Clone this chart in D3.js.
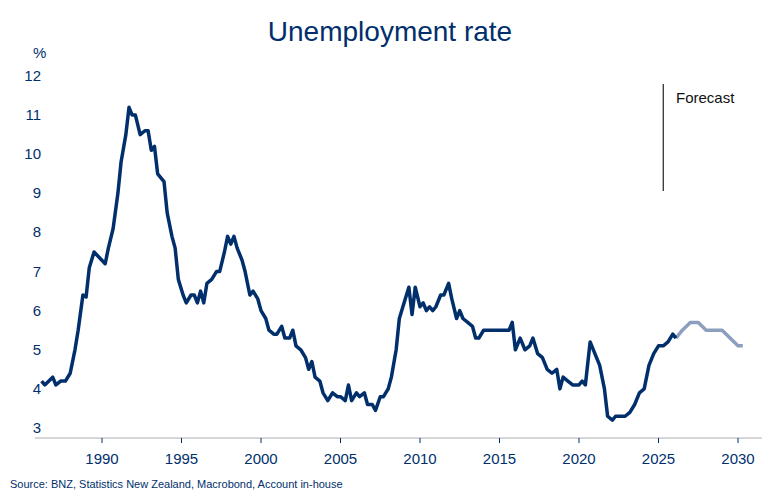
<!DOCTYPE html>
<html><head><meta charset="utf-8">
<script src="https://cdn.jsdelivr.net/npm/d3@7"></script>
<style>body{margin:0;background:#fff;font-family:"Liberation Sans",Arial,sans-serif}</style>
</head><body><div id="chart"></div>
<script>
// unemployment rate, [year, %]
const history = [[1986.2,4.2],[1986.4,4.1],[1986.9,4.3],[1987.1,4.1],[1987.4,4.2],[1987.7,4.2],[1988.0,4.4],[1988.3,5.0],[1988.5,5.5],[1988.8,6.4],[1989.0,6.35],[1989.2,7.1],[1989.5,7.5],[1990.2,7.2],[1990.4,7.6],[1990.7,8.1],[1991.0,9.0],[1991.2,9.8],[1991.5,10.5],[1991.7,11.2],[1991.9,11.0],[1992.1,11.0],[1992.4,10.5],[1992.7,10.6],[1992.9,10.6],[1993.1,10.1],[1993.3,10.2],[1993.5,9.5],[1993.9,9.3],[1994.1,8.5],[1994.4,7.9],[1994.6,7.6],[1994.8,6.8],[1995.1,6.4],[1995.3,6.2],[1995.6,6.4],[1995.8,6.4],[1996.0,6.2],[1996.2,6.5],[1996.4,6.2],[1996.6,6.7],[1996.9,6.8],[1997.2,7.0],[1997.4,7.0],[1997.7,7.5],[1997.9,7.9],[1998.1,7.7],[1998.3,7.9],[1998.5,7.6],[1998.8,7.3],[1999.0,7.0],[1999.3,6.4],[1999.5,6.5],[1999.8,6.3],[2000.0,6.0],[2000.3,5.8],[2000.5,5.5],[2000.8,5.4],[2001.0,5.4],[2001.3,5.6],[2001.5,5.3],[2001.8,5.3],[2002.0,5.5],[2002.2,5.1],[2002.5,5.0],[2002.8,4.8],[2003.0,4.5],[2003.2,4.7],[2003.4,4.3],[2003.7,4.2],[2003.9,3.9],[2004.2,3.7],[2004.5,3.9],[2004.8,3.8],[2005.0,3.8],[2005.3,3.7],[2005.5,4.1],[2005.7,3.7],[2006.0,3.9],[2006.2,3.8],[2006.5,3.9],[2006.7,3.6],[2007.0,3.6],[2007.2,3.45],[2007.5,3.8],[2007.7,3.8],[2008.0,4.0],[2008.2,4.3],[2008.5,5.0],[2008.7,5.8],[2009.0,6.2],[2009.3,6.6],[2009.5,5.9],[2009.7,6.6],[2010.0,6.1],[2010.2,6.2],[2010.4,6.0],[2010.6,6.1],[2010.8,6.0],[2011.0,6.1],[2011.3,6.4],[2011.5,6.4],[2011.8,6.7],[2012.0,6.3],[2012.3,5.8],[2012.5,6.0],[2012.7,5.8],[2013.0,5.7],[2013.3,5.6],[2013.5,5.3],[2013.7,5.3],[2014.0,5.5],[2014.3,5.5],[2014.6,5.5],[2015.0,5.5],[2015.3,5.5],[2015.6,5.5],[2015.8,5.7],[2016.0,5.0],[2016.3,5.3],[2016.6,5.0],[2016.9,5.1],[2017.1,5.3],[2017.4,4.9],[2017.7,4.8],[2018.0,4.5],[2018.3,4.4],[2018.6,4.5],[2018.8,4.0],[2019.0,4.3],[2019.3,4.2],[2019.6,4.1],[2020.0,4.1],[2020.2,4.2],[2020.4,4.1],[2020.7,5.2],[2021.0,4.9],[2021.3,4.6],[2021.6,4.0],[2021.8,3.3],[2022.1,3.2],[2022.3,3.3],[2022.6,3.3],[2022.9,3.3],[2023.2,3.4],[2023.5,3.6],[2023.8,3.9],[2024.1,4.0],[2024.4,4.6],[2024.7,4.9],[2025.0,5.1],[2025.3,5.1],[2025.6,5.2],[2025.9,5.4],[2026.1,5.3]];
const forecast = [[2026.1,5.3],[2026.5,5.5],[2027.0,5.7],[2027.5,5.7],[2028.0,5.5],[2028.5,5.5],[2029.0,5.5],[2029.5,5.3],[2030.0,5.1],[2030.3,5.1]];
const xTicks = [1990,1995,2000,2005,2010,2015,2020,2025,2030];
const yTicks = [3,4,5,6,7,8,9,10,11,12];
const forecastStart = 2025.3;

const W = 780, H = 503, navy = "#002f6c";
const svg = d3.select("#chart").append("svg").attr("width", W).attr("height", H);

const x = d3.scaleLinear().domain([1990, 2030]).range([102, 738]);
const y = d3.scaleLinear().domain([3, 12]).range([428, 76]);

svg.append("text").attr("x", 390).attr("y", 41).attr("text-anchor", "middle")
  .attr("font-size", 28).attr("fill", navy).text("Unemployment rate");
svg.append("text").attr("x", 33).attr("y", 58).attr("font-size", 15).attr("fill", navy).text("%");

// axes
svg.append("line").attr("x1", 35).attr("x2", 762).attr("y1", 438).attr("y2", 438)
  .attr("stroke", "#c8c8c8").attr("stroke-width", 1.5);
svg.selectAll(".xt").data(xTicks).enter().append("line")
  .attr("x1", d => x(d)).attr("x2", d => x(d)).attr("y1", 438).attr("y2", 443)
  .attr("stroke", navy);
svg.selectAll(".xl").data(xTicks).enter().append("text")
  .attr("x", d => x(d)).attr("y", 464).attr("text-anchor", "middle")
  .attr("font-size", 15).attr("fill", navy).text(d => d);
svg.selectAll(".yl").data(yTicks).enter().append("text")
  .attr("x", 41).attr("y", d => y(d) + 5).attr("text-anchor", "end")
  .attr("font-size", 15).attr("fill", navy).text(d => d);

// forecast marker
svg.append("line").attr("x1", x(forecastStart)).attr("x2", x(forecastStart))
  .attr("y1", 84).attr("y2", 191).attr("stroke", "#222").attr("stroke-width", 1.2);
svg.append("text").attr("x", 676).attr("y", 103).attr("font-size", 15).attr("fill", "#111").text("Forecast");

const line = d3.line().x(d => x(d[0])).y(d => y(d[1]));
svg.append("path").datum(forecast).attr("d", line).attr("fill", "none")
  .attr("stroke", "#8c9fbf").attr("stroke-width", 3.5).attr("stroke-linejoin", "round");
svg.append("path").datum(history).attr("d", line).attr("fill", "none")
  .attr("stroke", navy).attr("stroke-width", 3.5).attr("stroke-linejoin", "round");

svg.append("text").attr("x", 10).attr("y", 488).attr("font-size", 11).attr("fill", navy)
  .text("Source: BNZ, Statistics New Zealand, Macrobond, Account in-house");
</script></body></html>
